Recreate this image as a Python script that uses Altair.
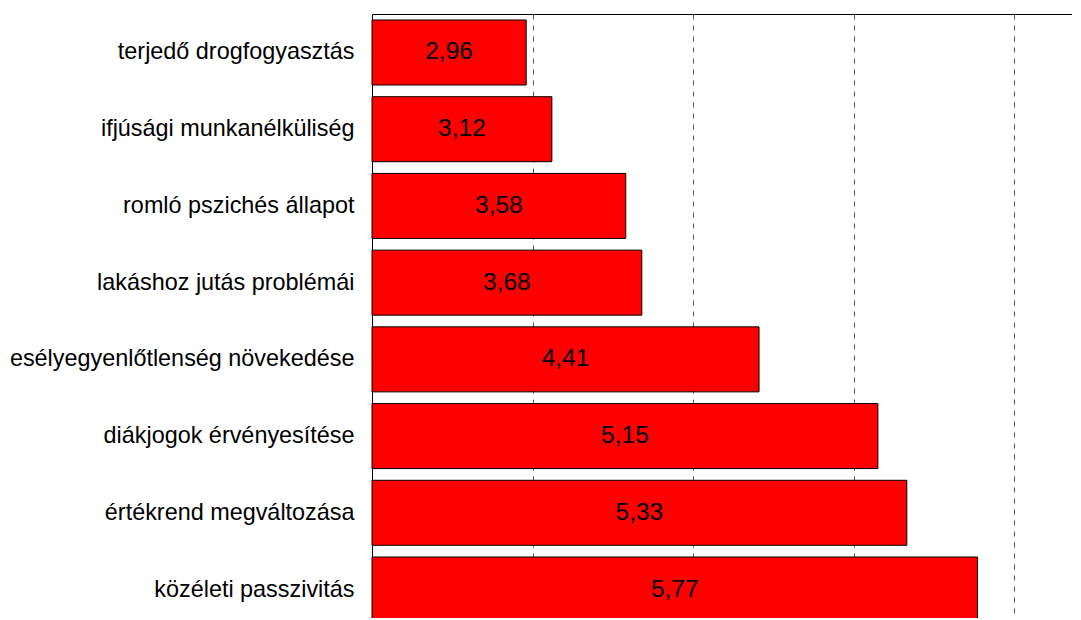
import altair as alt
import pandas as pd

categories = [
    "terjedő drogfogyasztás",
    "ifjúsági munkanélküliség",
    "romló pszichés állapot",
    "lakáshoz jutás problémái",
    "esélyegyenlőtlenség növekedése",
    "diákjogok érvényesítése",
    "értékrend megváltozása",
    "közéleti passzivitás",
]
values = [2.96, 3.12, 3.58, 3.68, 4.41, 5.15, 5.33, 5.77]
grid_values = [3, 4, 5, 6]

df = pd.DataFrame({"cat": categories, "value": values})

FONT = "Liberation Sans"

xscale = alt.Scale(domain=[2, 7], range=[0, 803], zero=False, nice=False)
yscale = alt.Scale(domain=categories, range=[0, 614], paddingInner=0.1525, paddingOuter=0.078)

base = alt.Chart(df)

bars = base.mark_bar(color="#ff0000", stroke="#000000", strokeWidth=1).encode(
    y=alt.Y("cat:N", scale=yscale, sort=categories,
            axis=alt.Axis(title=None, ticks=False, domain=True, domainColor="#000000",
                          domainWidth=1, labelFont=FONT, labelFontSize=23.4,
                          labelColor="#000000", labelPadding=18, labelLimit=400,
                          grid=False)),
    x=alt.X("value:Q", scale=xscale,
            axis=alt.Axis(orient="top", title=None, labels=False, ticks=False,
                          domain=True, domainColor="#000000", domainWidth=1,
                          grid=True, values=grid_values, gridColor="#555555",
                          gridDash=[5, 6], gridWidth=1)),
    x2=alt.datum(2),
)

texts = base.transform_calculate(
    mid="(datum.value + 2) / 2",
    label="replace(format(datum.value, '.2f'), '.', ',')",
).mark_text(font=FONT, fontSize=24.5, color="#000000", baseline="middle", align="center").encode(
    y=alt.Y("cat:N", scale=yscale, sort=categories),
    x=alt.X("mid:Q", scale=xscale),
    text="label:N",
)

chart = (bars + texts).properties(
    width=700,
    height=604,
    padding={"left": 364, "top": 6, "right": 0, "bottom": 0},
    autosize=alt.AutoSizeParams(type="none"),
).configure_view(stroke=None)

chart.save("out.html", embed_options={"renderer": "svg", "actions": False})
